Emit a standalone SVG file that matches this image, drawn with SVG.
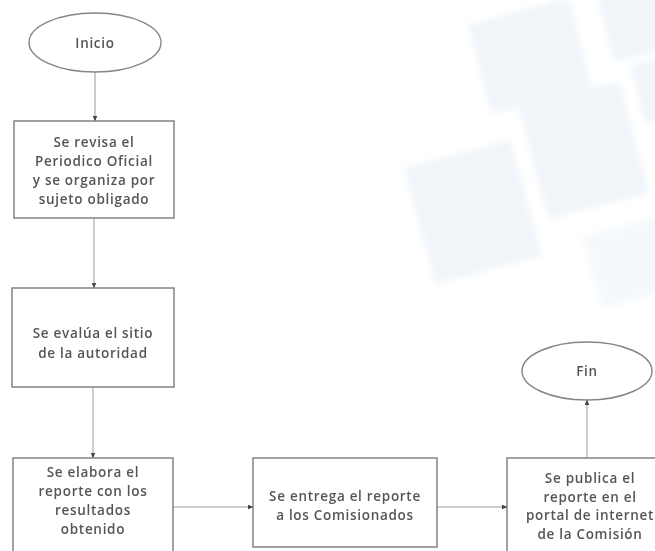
<svg xmlns="http://www.w3.org/2000/svg" width="655" height="551" viewBox="0 0 655 551">
<style>
.bg{fill:#f0f5fa}
.box{fill:#ffffff;stroke:#7a7a7a;stroke-width:1.4}
.term{fill:#ffffff;stroke:#858585;stroke-width:1.4}
.lbl{font-family:"Open Sans","Liberation Sans",Arial,sans-serif;font-size:13.5px;letter-spacing:0.7px;font-weight:600;fill:#555555;text-anchor:middle}
.con{fill:none;stroke:#9a9a9a;stroke-width:1}
</style>
<defs>
<marker id="ah" viewBox="0 0 10 10" refX="9" refY="5" markerWidth="6" markerHeight="6" orient="auto" markerUnits="userSpaceOnUse">
<path d="M0,1 L10,5 L0,9 z" fill="#444"/>
</marker>
<filter id="soft" x="-20%" y="-20%" width="140%" height="140%"><feGaussianBlur stdDeviation="3"/></filter>
</defs>
<rect width="655" height="551" fill="#ffffff"/>
<g id="watermark" filter="url(#soft)">
<rect class="bg" x="-52" y="-46" width="104" height="92" transform="translate(530,56) rotate(-15)"/>
<rect class="bg" x="-52" y="-58" width="104" height="116" transform="translate(584,150) rotate(-15)"/>
<rect class="bg" x="-55" y="-60" width="110" height="120" transform="translate(473,212) rotate(-15)"/>
<rect class="bg" x="-36" y="-36" width="72" height="72" transform="translate(640,18) rotate(-15)"/>
<rect class="bg" x="-25" y="-30" width="50" height="60" transform="translate(662,88) rotate(-15)"/>
<rect class="bg" x="-42" y="-38" width="84" height="76" transform="translate(632,262) rotate(-15)" opacity="0.6"/>
</g>
<g id="connectors">
<line class="con" x1="95" y1="72" x2="95" y2="121" marker-end="url(#ah)"/>
<line class="con" x1="94" y1="218" x2="94" y2="288" marker-end="url(#ah)"/>
<line class="con" x1="93" y1="387" x2="93" y2="458" marker-end="url(#ah)"/>
<line class="con" x1="173" y1="507" x2="253" y2="507" marker-end="url(#ah)"/>
<line class="con" x1="437" y1="507" x2="507" y2="507" marker-end="url(#ah)"/>
<line class="con" x1="587" y1="458" x2="587" y2="400" marker-end="url(#ah)"/>
</g>
<g id="inicio">
<ellipse class="term" cx="95" cy="42.5" rx="66" ry="29.5"/>
<text class="lbl" x="95" y="47.5">Inicio</text>
</g>
<g id="revisa">
<rect class="box" x="14" y="121" width="160" height="97"/>
<text class="lbl" x="94" y="147">Se revisa el</text>
<text class="lbl" x="94" y="166">Periodico Oficial</text>
<text class="lbl" x="94" y="185">y se organiza por</text>
<text class="lbl" x="94" y="204">sujeto obligado</text>
</g>
<g id="evalua">
<rect class="box" x="12" y="288" width="162" height="99"/>
<text class="lbl" x="93" y="338">Se evalúa el sitio</text>
<text class="lbl" x="93" y="358">de la autoridad</text>
</g>
<g id="elabora">
<rect class="box" x="13" y="458" width="160" height="96"/>
<text class="lbl" x="93" y="477">Se elabora el</text>
<text class="lbl" x="93" y="496">reporte con los</text>
<text class="lbl" x="93" y="515">resultados</text>
<text class="lbl" x="93" y="534">obtenido</text>
</g>
<g id="entrega">
<rect class="box" x="253" y="458" width="184" height="89"/>
<text class="lbl" x="345" y="501">Se entrega el reporte</text>
<text class="lbl" x="345" y="520">a los Comisionados</text>
</g>
<g id="publica">
<rect class="box" x="507" y="458" width="166" height="96"/>
<text class="lbl" x="590" y="483">Se publica el</text>
<text class="lbl" x="590" y="501.5">reporte en el</text>
<text class="lbl" x="590" y="520">portal de internet</text>
<text class="lbl" x="590" y="538.5">de la Comisión</text>
</g>
<g id="fin">
<ellipse class="term" cx="587" cy="371" rx="65" ry="29"/>
<text class="lbl" x="587" y="376">Fin</text>
</g>
</svg>
